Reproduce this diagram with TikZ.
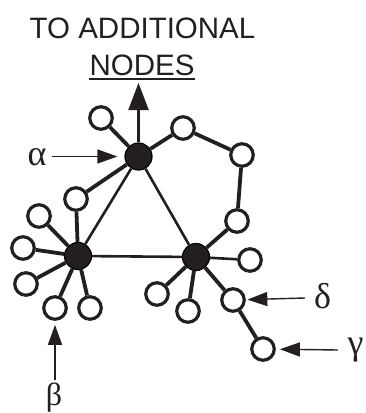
\documentclass[tikz,border=0pt]{standalone}
\usepackage{fontspec}
\setmainfont{Liberation Serif}
\newfontfamily\headfont{Liberation Sans}
\usetikzlibrary{arrows.meta}

\definecolor{ink}{RGB}{35,31,32}

\tikzset{
  hub/.style={circle, fill=ink, draw=black, line width=1.2pt, minimum size=27pt, inner sep=0pt},
  leaf/.style={circle, fill=white, draw=ink, line width=3.2pt, minimum size=22.5pt, inner sep=0pt},
  spoke/.style={line width=3.8pt, draw=ink},
  side/.style={line width=2.6pt, draw=ink},
  pointer/.style={line width=1.4pt, draw=ink, -{Triangle[length=20pt, width=14pt]}},
  greek/.style={font=\fontsize{36}{38}\selectfont, inner sep=0pt, anchor=base, text=ink},
  head/.style={font=\headfont\fontsize{29.5}{32}\selectfont, inner sep=0pt, anchor=base, text=ink}
}

\begin{document}
\begin{tikzpicture}[x=1pt, y=-1pt]
  \useasboundingbox (0,0) rectangle (365,413);

  % heading
  \node[head] (title) at (142.5,38) {TO ADDITIONAL};
  \node[head] (more) at (142,75) {NODES};
  \draw[line width=1.5pt, ink] ([yshift=-4pt]more.base west) -- ([yshift=-4pt]more.base east);

  % central triangle of hubs
  \node[hub] (A) at (138.5,156.5) {};
  \node[hub] (B) at (78,256) {};
  \node[hub] (C) at (196,257) {};

  % leaves
  \node[leaf] (a1) at (101,118) {};
  \node[leaf] (a2) at (183,128) {};
  \node[leaf] (a3) at (76,199) {};
  \node[leaf] (r1) at (242,155) {};
  \node[leaf] (r2) at (237,221) {};
  \node[leaf] (b1) at (39,216) {};
  \node[leaf] (b2) at (23,248) {};
  \node[leaf] (b3) at (26,284) {};
  \node[leaf] (b4) at (55,308) {};
  \node[leaf] (b5) at (90,308) {};
  \node[leaf] (c1) at (250,260) {};
  \node[leaf] (c2) at (157,294) {};
  \node[leaf] (c3) at (188,311) {};
  \node[leaf] (c4) at (233,300) {};
  \node[leaf] (c5) at (263,349) {};

  % triangle sides
  \draw[side] (A) -- (B);
  \draw[side] (A) -- (C);
  \draw[side] (B) -- (C);

  % spokes
  \foreach \u/\v in {A/a1, A/a2, A/a3, a3/B, a2/r1, r1/r2, r2/C,
                     B/b1, B/b2, B/b3, B/b4, B/b5,
                     C/c2, C/c3, C/c4, c4/c5}
    \draw[spoke] (\u) -- (\v);
  \draw[side] (C) -- (c1);

  % link to further nodes
  \coordinate (up) at (138.5,83);
  \draw[line width=2.2pt, ink, -{Triangle[length=27pt, width=20pt]}] (A) -- (up);

  % labels
  \node[greek] (alpha) at (37,165) {α};
  \node[greek, font=\fontsize{32}{34}\selectfont] (beta) at (54,405) {β};
  \node[greek] (delta) at (322.5,308) {δ};
  \node[greek] (gamma) at (355.5,354) {γ};

  % pointer tails
  \coordinate (atail) at (52,156.5);
  \coordinate (btail) at (55,380);
  \coordinate (dtail) at (305,298);
  \coordinate (gtail) at (338,350);

  \draw[pointer, shorten >=7pt] (atail) -- (A);
  \draw[pointer, shorten >=4pt] (btail) -- (b4);
  \draw[pointer, shorten >=1.5pt] (dtail) -- (c4);
  \draw[pointer, shorten >=4pt] (gtail) -- (c5);
\end{tikzpicture}
\end{document}
